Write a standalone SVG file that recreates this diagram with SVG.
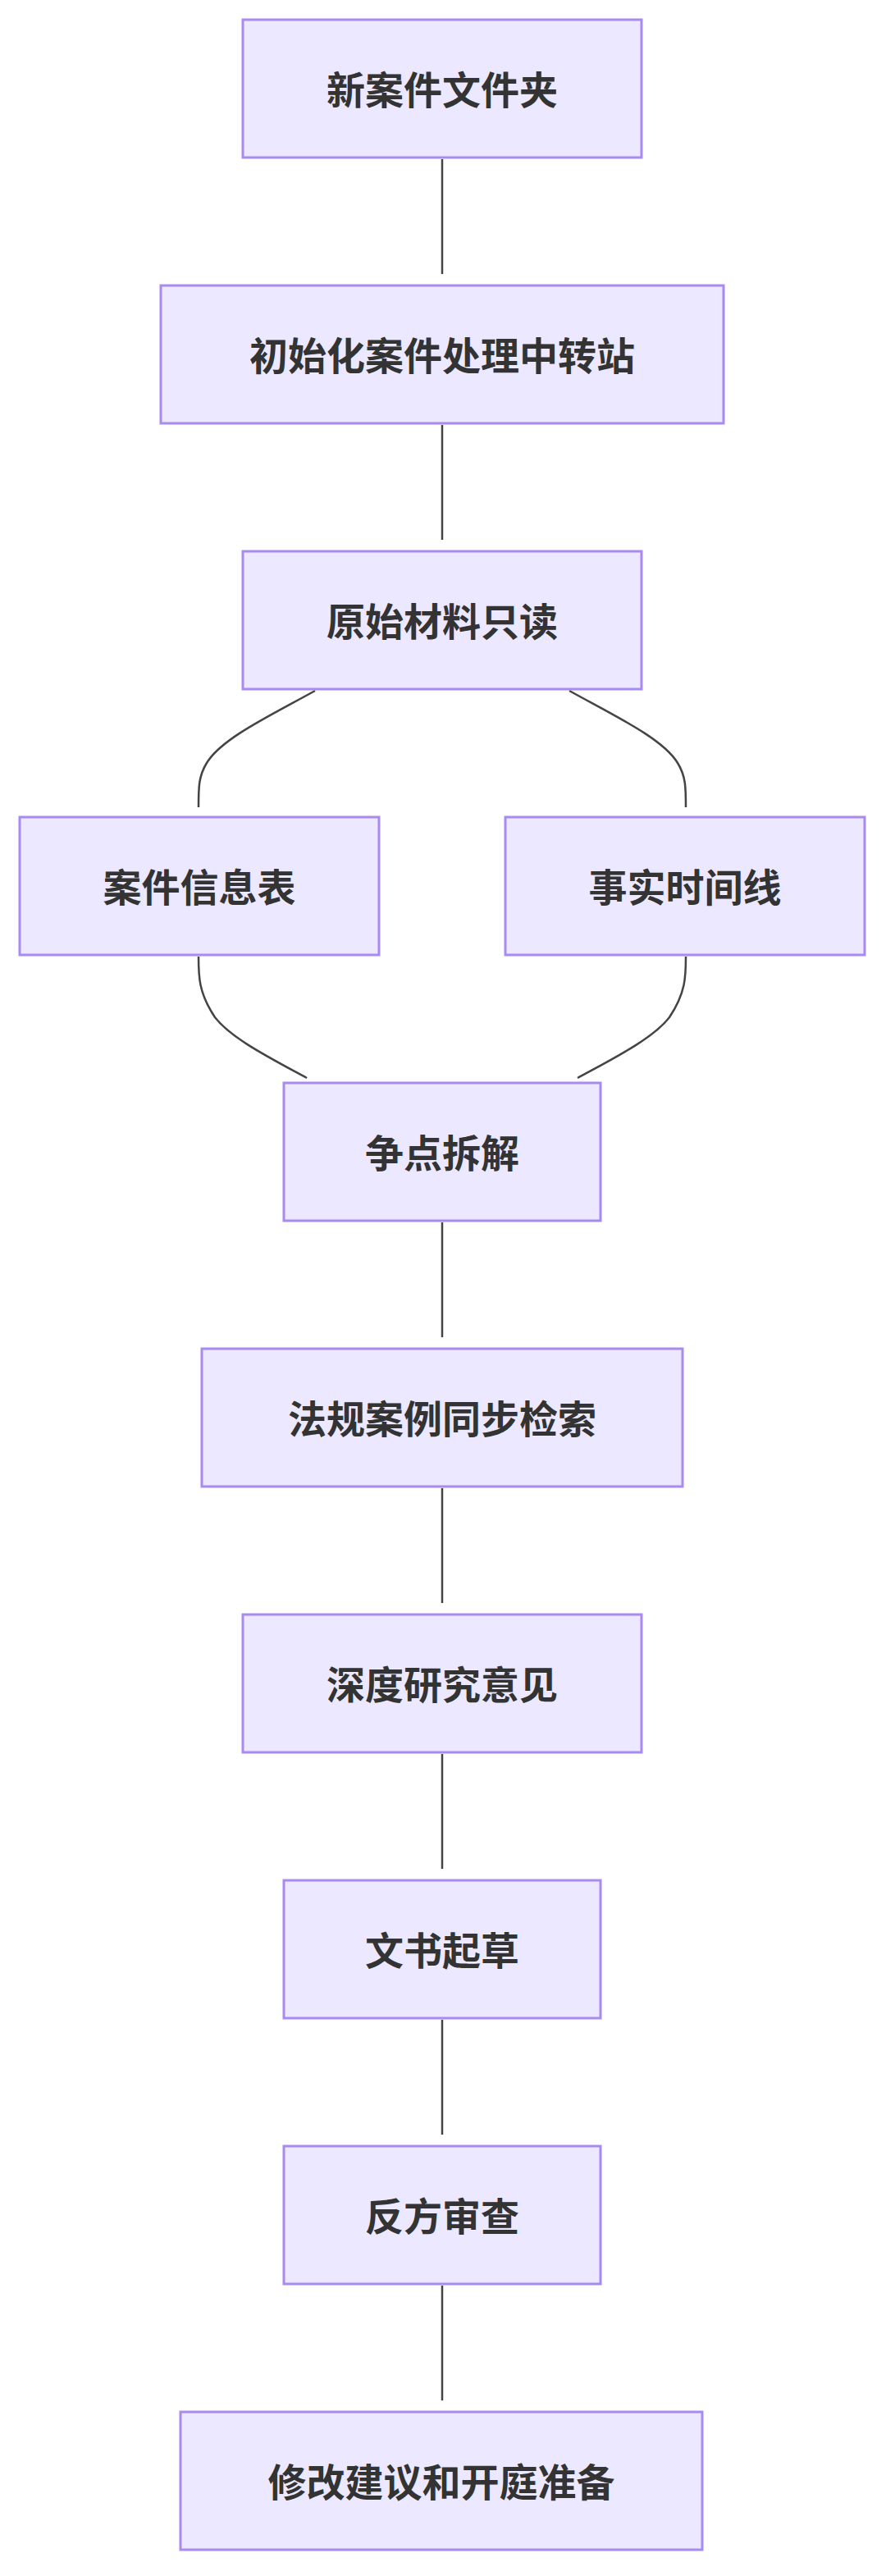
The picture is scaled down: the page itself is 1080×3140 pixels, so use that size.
<svg xmlns="http://www.w3.org/2000/svg" width="1080" height="3140" viewBox="0 0 1080 3140">
<style>
.n rect{fill:#ECE8FF;stroke:#A98AF0;stroke-width:3}
.n text{font-family:"Noto Sans CJK SC","Noto Sans",sans-serif;font-size:47px;font-weight:bold;fill:#333;text-anchor:middle;dominant-baseline:central}
.e path{fill:none;stroke:#444;stroke-width:2.5}
</style>
<rect width="1080" height="3140" fill="#fff"/>
<g class="e">
<path d="M539 194V334"/>
<path d="M539 518V658"/>
<path d="M384 842C330 872 270 900 252 930C242 946 242 960 242 984"/>
<path d="M694 842C748 872 808 900 826 930C836 946 836 960 836 984"/>
<path d="M242 1166C242 1190 242 1210 262 1240C282 1266 330 1290 374 1314"/>
<path d="M836 1166C836 1190 836 1210 816 1240C796 1266 748 1290 704 1314"/>
<path d="M539 1490V1630"/>
<path d="M539 1814V1954"/>
<path d="M539 2138V2278"/>
<path d="M539 2462V2602"/>
<path d="M539 2786V2926"/>
</g>
<g id="n1" class="n"><rect x="296" y="24" width="486" height="168"/><text x="539" y="106">新案件文件夹</text></g>
<g id="n2" class="n"><rect x="196" y="348" width="686" height="168"/><text x="539" y="430">初始化案件处理中转站</text></g>
<g id="n3" class="n"><rect x="296" y="672" width="486" height="168"/><text x="539" y="754">原始材料只读</text></g>
<g id="n4" class="n"><rect x="24" y="996" width="438" height="168"/><text x="243" y="1078">案件信息表</text></g>
<g id="n5" class="n"><rect x="616" y="996" width="438" height="168"/><text x="835" y="1078">事实时间线</text></g>
<g id="n6" class="n"><rect x="346" y="1320" width="386" height="168"/><text x="539" y="1402">争点拆解</text></g>
<g id="n7" class="n"><rect x="246" y="1644" width="586" height="168"/><text x="539" y="1726">法规案例同步检索</text></g>
<g id="n8" class="n"><rect x="296" y="1968" width="486" height="168"/><text x="539" y="2050">深度研究意见</text></g>
<g id="n9" class="n"><rect x="346" y="2292" width="386" height="168"/><text x="539" y="2374">文书起草</text></g>
<g id="n10" class="n"><rect x="346" y="2616" width="386" height="168"/><text x="539" y="2698">反方审查</text></g>
<g id="n11" class="n"><rect x="220" y="2940" width="636" height="168"/><text x="538" y="3022">修改建议和开庭准备</text></g>
</svg>
